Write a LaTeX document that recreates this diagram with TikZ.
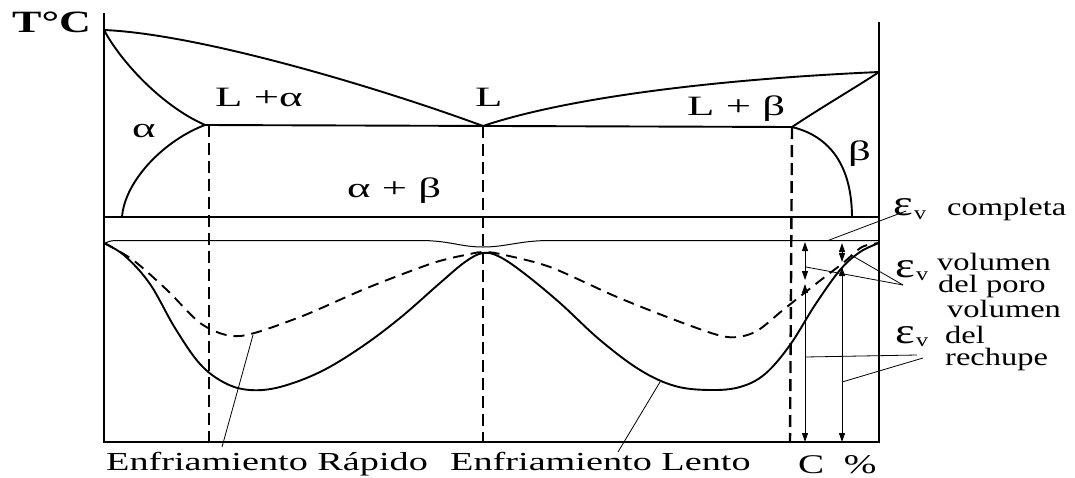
\documentclass[tikz,border=0pt]{standalone}
\usepackage{fontspec}
\setmainfont{Liberation Serif}
\usetikzlibrary{arrows.meta}
\newcommand\hsx[2]{\scalebox{#1}[1]{#2}}
\begin{document}
\begin{tikzpicture}[x=1pt,y=-1pt,
  axis/.style={line width=2.4pt},
  phase/.style={line width=1.9pt},
  thinl/.style={line width=1pt},
  leader/.style={line width=0.8pt},
  vdash/.style={line width=2.4pt, dash pattern=on 12pt off 6pt},
  dcurve/.style={line width=1.9pt, dash pattern=on 11pt off 7pt},
  dim/.style={line width=1pt, {Triangle[length=9pt,width=6pt]}-{Triangle[length=9pt,width=6pt]}},
  lab/.style={inner sep=0pt, anchor=base west},
  big/.style={lab, font=\fontsize{28}{28}\selectfont},
  bot/.style={lab, font=\fontsize{26}{26}\selectfont},
  side/.style={lab, font=\fontsize{25}{25}\selectfont, text height=0.68em, text depth=0.2em},
  epsf/.style={lab, font=\fontsize{36}{36}\selectfont},
  subf/.style={lab, font=\fontsize{19}{19}\selectfont},
]
\useasboundingbox (0,0) rectangle (1075,477);

% key points
\coordinate (A) at (104,30);
\coordinate (B) at (879,72);
\coordinate (E) at (483,126);
\coordinate (Ea) at (205,125);
\coordinate (Eb) at (792,127);
\coordinate (Sa) at (122,217);
\coordinate (Sb) at (852,218);

% axes
\draw[axis] (104,13) -- (104,442) -- (879,442) -- (879,22);

% phase diagram
\draw[phase] (A) .. controls (200,34) and (380,88) .. (E);
\draw[phase] (E) .. controls (560,100) and (700,80) .. (B);
\draw[phase] (A) .. controls (120,60) and (160,105) .. (Ea);
\draw[phase] (Ea) .. controls (165,140) and (125,180) .. (Sa);
\draw[phase] (Ea) -- (Eb);
\draw[phase] (Eb) .. controls (822,107) and (858,86) .. (B);
\draw[phase] (Eb) .. controls (825,135) and (852,160) .. (Sb);
\draw[phase] (104,217) -- (879,217);

% thin volume line
\draw[thinl] (104,244) .. controls (110,240.5) .. (125,240.5) -- (420,240.5)
  .. controls (450,240.5) and (460,247) .. (483,247)
  .. controls (506,247) and (520,240.5) .. (550,240.5) -- (879,240.5);

% vertical dashed lines
\draw[vdash] (209,125) -- (209,442);
\draw[vdash] (E) -- (483,442);
\draw[vdash] (Eb) -- (790,442);

% slow cooling (solid)
\draw[phase] plot[smooth, tension=0.6] coordinates {(104,243) (125,256) (150,284) (175,328) (200,364) (225,383) (250,390) (280,387) (320,372) (360,348) (400,318) (440,283) (465,262) (483,253) (500,257) (525,274) (560,303) (600,340) (640,370) (675,386) (710,390) (740,387) (765,374) (790,345) (815,305) (840,270) (860,252) (879,243)};
% fast cooling (dashed)
\draw[dcurve] plot[smooth, tension=0.5] coordinates {(104,243) (133,260) (167,290) (203,325) (240,336) (300,317) (367,288) (433,263) (470,254) (483,252) (500,254) (550,267) (617,297) (683,323) (727,337) (755,332) (783,310) (817,283) (843,263) (862,247) (879,243)};

% dimension arrows
\coordinate (a1t) at (805,242); \coordinate (a1m) at (805,280);
\coordinate (a1n) at (805,284); \coordinate (a1b) at (805,442);
\coordinate (a2t) at (842,243); \coordinate (a2m) at (842,262);
\coordinate (a2n) at (842,267); \coordinate (a2b) at (842,442);
\draw[dim] (a1t) -- (a1m);
\draw[dim] (a1n) -- (a1b);
\draw[dim] (a2t) -- (a2m);
\draw[dim] (a2n) -- (a2b);

% labels
\node[lab, font=\bfseries\fontsize{31}{31}\selectfont] (tc) at (12,32) {\hsx{1.42}{T°C}};
\node[big] (la) at (215,106) {\hsx{1.6}{L +α}};
\node[big] (ll) at (475,106) {\hsx{1.6}{L}};
\node[big] (lb) at (687,115) {\hsx{1.6}{L + β}};
\node[big] (al) at (132,137) {\hsx{1.6}{α}};
\node[big] (ab) at (347,197) {\hsx{1.6}{α + β}};
\node[big] (be) at (848,160) {\hsx{1.6}{β}};

\node[bot] (rap) at (106,470) {\hsx{1.47}{Enfriamiento Rápido}};
\node[bot] (len) at (450,470) {\hsx{1.47}{Enfriamiento Lento}};
\node[lab, font=\fontsize{27}{27}\selectfont] (cp) at (798,473) {\hsx{1.45}{C\hspace{0.5em}\%}};

\node[epsf] (e1) at (893,215) {\hsx{1.3}{ε}};
\node[subf] (v1) at (914,219) {\hsx{1.27}{v}};
\node[side] (t1) at (947,215) {\hsx{1.3}{completa}};
\node[epsf] (e2) at (895,277) {\hsx{1.3}{ε}};
\node[subf] (v2) at (916,280) {\hsx{1.27}{v}};
\node[side] (t2) at (937,270) {\hsx{1.3}{volumen}};
\node[side] (t3) at (938,292) {\hsx{1.3}{del poro}};
\node[side] (t4) at (947,317) {\hsx{1.3}{volumen}};
\node[epsf] (e3) at (895,343) {\hsx{1.3}{ε}};
\node[subf] (v3) at (916,346) {\hsx{1.27}{v}};
\node[side] (t5) at (945,343) {\hsx{1.3}{del}};
\node[side] (t6) at (945,365) {\hsx{1.3}{rechupe}};

% leader lines
\coordinate (c1s) at (906,211); \coordinate (c1e) at (828,240.5);
\coordinate (p0) at (903,285); \coordinate (p1) at (851,255); \coordinate (p2) at (806,267);
\coordinate (r1s) at (917,355); \coordinate (r1e) at (805,357);
\coordinate (r2s) at (923,358); \coordinate (r2e) at (842,382);
\coordinate (fs) at (222,447); \coordinate (fe) at (253,335);
\coordinate (ls) at (618,452); \coordinate (le) at (660,382);
\draw[leader] (c1s) -- (c1e);
\draw[leader] (p0) -- (p1);
\draw[leader] (p0) -- (p2);
\draw[leader] (r1s) -- (r1e);
\draw[leader] (r2s) -- (r2e);
\draw[leader] (fs) -- (fe);
\draw[leader] (ls) -- (le);
\end{tikzpicture}
\end{document}
